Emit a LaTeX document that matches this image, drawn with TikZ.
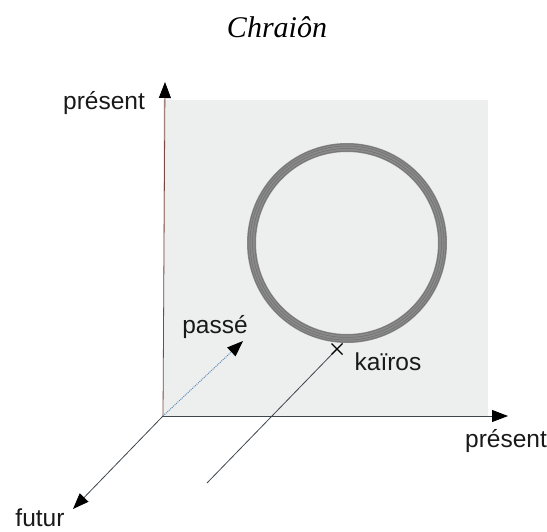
\documentclass[tikz,border=0pt]{standalone}
\usepackage{fontspec}
\setmainfont{Liberation Sans}
\newfontfamily\titlefont{Liberation Serif}
\usetikzlibrary{arrows.meta,positioning}
\definecolor{planegray}{HTML}{EDEEEE}
\definecolor{ringgray}{HTML}{8A8A8A}
\definecolor{ringdark}{HTML}{555555}
\definecolor{axisbrown}{HTML}{7A4A42}
\definecolor{axisink}{HTML}{3E464E}
\definecolor{pastblue}{HTML}{5F8DBA}
\tikzset{
  axislabel/.style={font=\fontsize{24.5}{28}\selectfont,text=black!90,inner sep=0pt},
  axistip/.style={-{Triangle[length=16pt,width=12pt,color=black]}},
}

\begin{document}
\begin{tikzpicture}[x=1pt,y=-1pt]
        \useasboundingbox (0,0) rectangle (547,532);
        % plane of the present
        \fill[planegray] (163,100) rectangle (488,416);
        \coordinate (origin) at (163,416);
        \coordinate (uptip) at (165,82);
        \coordinate (righttip) at (508,416);
        \coordinate (pasttip) at (243,341);
        \coordinate (futuretip) at (73,509);
        \coordinate (kairos) at (337,349);
        \coordinate (kairosfoot) at (207,483);
        % ring of the chraion
        \draw[ringgray,line width=9pt] (347,243) circle[radius=95.5];
        \foreach \r in {92,94.5,97,99}
          \draw[ringdark,line width=.5pt,opacity=.55] (347,243) circle[radius=\r];
        % axes
        \draw[axisbrown,line width=.8pt,axistip] (origin) -- (uptip);
        \draw[axisink,line width=.8pt,axistip] (origin) -- (righttip);
        \draw[pastblue,line width=1pt,densely dotted,axistip] (origin) -- (pasttip);
        \draw[axisink,line width=.8pt,axistip] (origin) -- (futuretip);
        \draw[axisink,line width=.8pt] (kairos) -- (kairosfoot);
        \draw[black,line width=1.2pt] (331.5,343.5) -- (342.5,354.5)
          (331.5,354.5) -- (342.5,343.5);
        % labels
        \node[font=\titlefont\itshape\fontsize{30}{34}\selectfont] (title) at (277,27) {Chraiôn};
        \node[axislabel] (presentup) at (104,103) {présent};
        \node[axislabel] (presentright) at (506,441) {présent};
        \node[axislabel] (past) at (215,327) {passé};
        \node[axislabel] (future) at (40,518) {futur};
        \node[axislabel] (kairoslabel) at (388,362) {kaïros};
      \end{tikzpicture}
\end{document}
